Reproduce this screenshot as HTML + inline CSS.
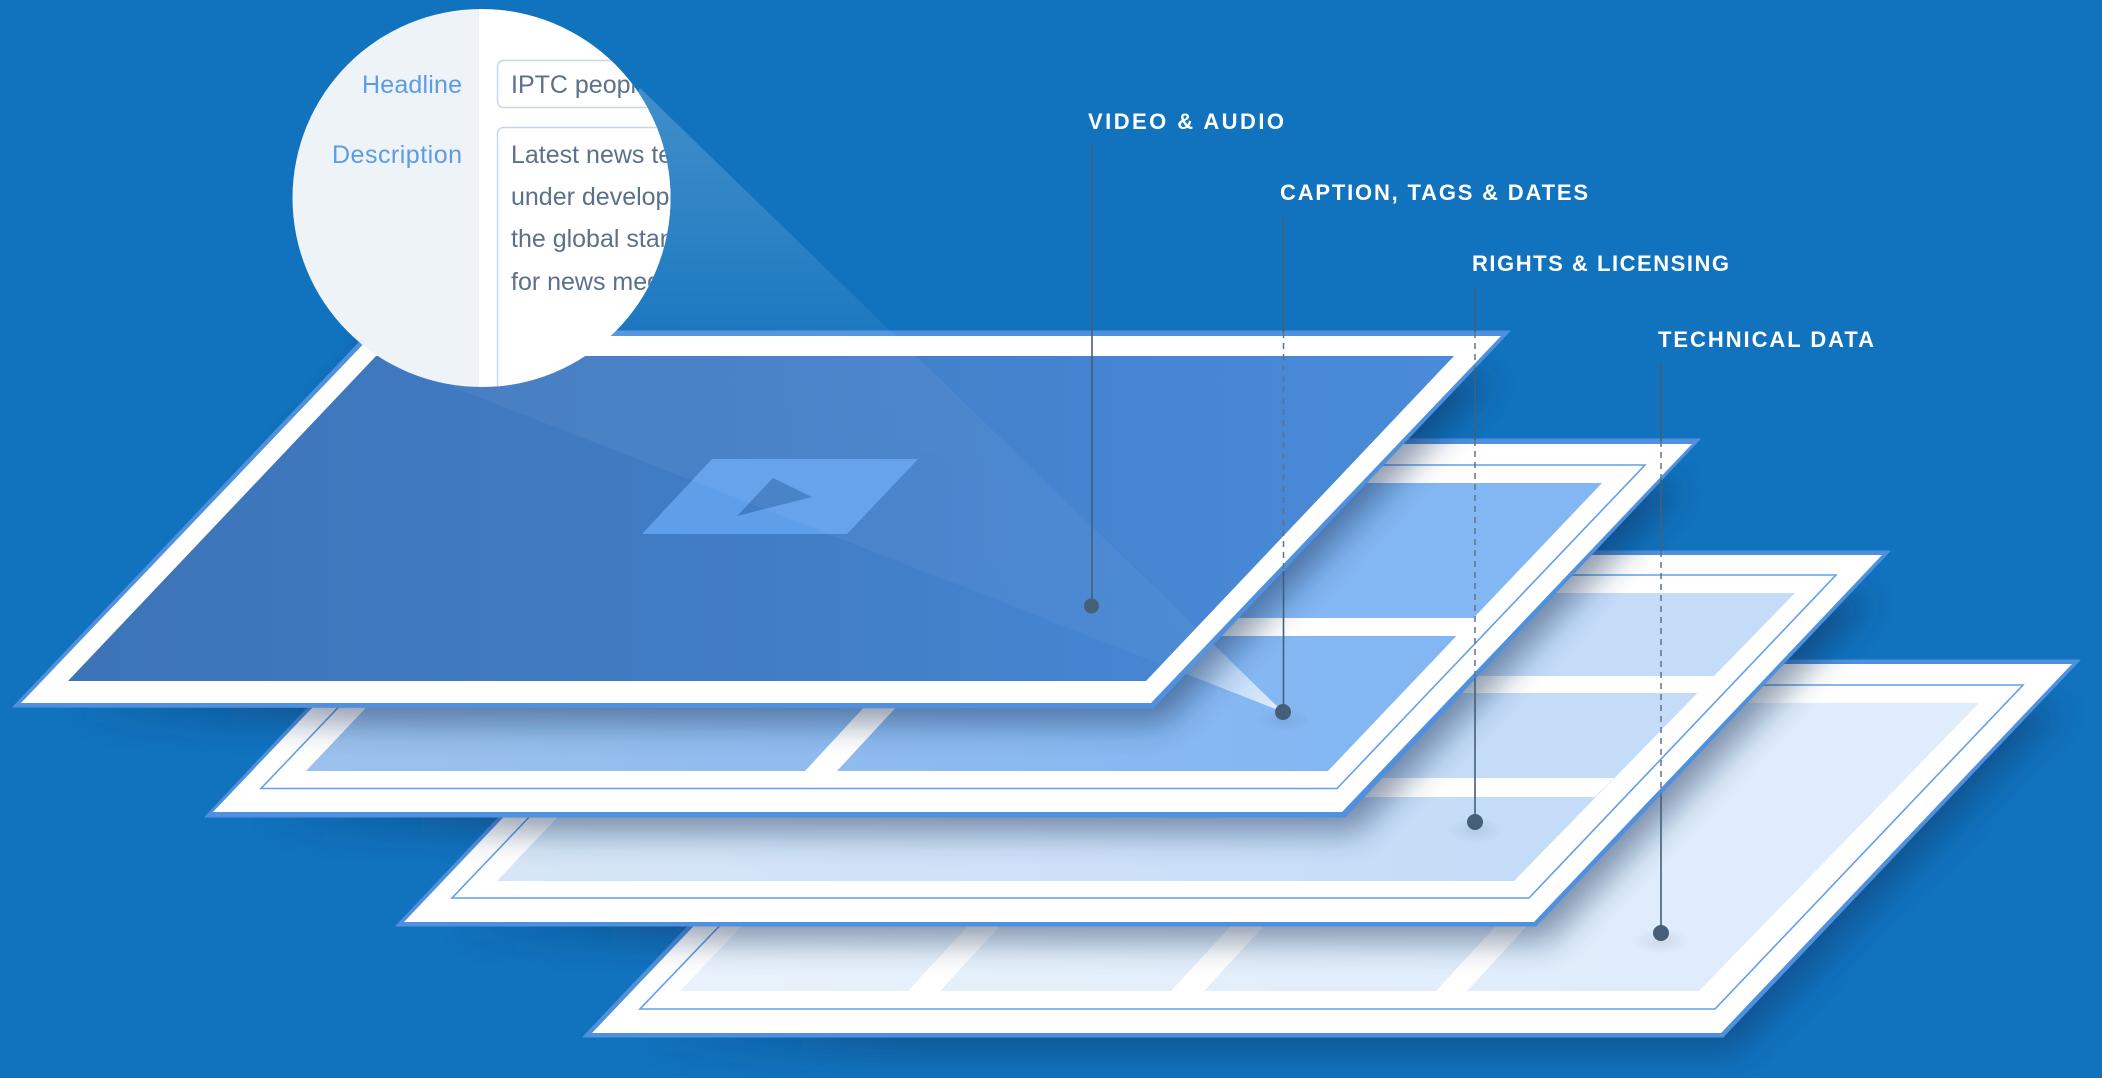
<!DOCTYPE html>
<html><head><meta charset="utf-8"><style>
html,body{margin:0;padding:0;background:#1172bd;width:2102px;height:1078px;overflow:hidden}
svg{display:block}
text{font-family:"Liberation Sans",sans-serif}
</style></head><body>
<svg width="2102" height="1078" viewBox="0 0 2102 1078" xmlns="http://www.w3.org/2000/svg">
<defs>
<filter id="sh" filterUnits="userSpaceOnUse" x="-100" y="200" width="2400" height="1000"><feGaussianBlur stdDeviation="16"/></filter>
<linearGradient id="sg"><stop offset="0" stop-color="#0b2a55" stop-opacity="0"/><stop offset=".2" stop-color="#0b2a55" stop-opacity="1"/><stop offset="1" stop-color="#0b2a55" stop-opacity="1"/></linearGradient>
<linearGradient id="g1" gradientUnits="userSpaceOnUse" x1="68" y1="0" x2="1454" y2="0"><stop offset="0" stop-color="#3d74b8"/><stop offset=".5" stop-color="#417dc5"/><stop offset=".8" stop-color="#4686d3"/><stop offset="1" stop-color="#4a8bd9"/></linearGradient>
<linearGradient id="g2" gradientUnits="userSpaceOnUse" x1="306" y1="0" x2="1328" y2="0"><stop offset="0" stop-color="#9dc1ec"/><stop offset=".6" stop-color="#8dbaef"/><stop offset="1" stop-color="#83b7f3"/></linearGradient>
<linearGradient id="g3" gradientUnits="userSpaceOnUse" x1="497" y1="0" x2="1514" y2="0"><stop offset="0" stop-color="#d6e6f6"/><stop offset=".6" stop-color="#cde0f8"/><stop offset="1" stop-color="#c4dcf8"/></linearGradient>
<linearGradient id="g4" gradientUnits="userSpaceOnUse" x1="680" y1="0" x2="1699" y2="0"><stop offset="0" stop-color="#e9f2fb"/><stop offset="1" stop-color="#deecfb"/></linearGradient>
<linearGradient id="coneA" gradientUnits="userSpaceOnUse" x1="0" y1="90" x2="0" y2="712"><stop offset="0" stop-color="#fff" stop-opacity=".2"/><stop offset=".39" stop-color="#fff" stop-opacity=".05"/><stop offset="1" stop-color="#fff" stop-opacity=".035"/></linearGradient>
<linearGradient id="coneB" gradientUnits="userSpaceOnUse" x1="1283" y1="712" x2="1190" y2="650"><stop offset="0" stop-color="#fff" stop-opacity=".75"/><stop offset="1" stop-color="#fff" stop-opacity=".25"/></linearGradient>
<radialGradient id="ds"><stop offset="0" stop-color="#234" stop-opacity=".1"/><stop offset="1" stop-color="#234" stop-opacity="0"/></radialGradient>
<clipPath id="circ"><circle cx="481.5" cy="198" r="189"/></clipPath>
</defs>
<rect width="2102" height="1078" fill="#1172bd"/>

<!-- Layer 4 -->
<polygon points="620,1037 1723,1037 2050,692 940,660" transform="translate(12,15)" fill="url(#sg)" opacity=".4" filter="url(#sh)"/>
<polygon points="583,1037 1723,1037 2080,660 940,660" fill="#4f91de" stroke="#4f91de" stroke-linejoin="round"/>
<polygon points="592,1033 1721,1033 2072,664 943,664" fill="#fff"/>
<polygon points="640,1009 1715,1009 2023,685 950,685" fill="none" stroke="#62a0e8" stroke-width="1.6"/>
<polygon points="680,991 1699,991 1979,703 955,703" fill="url(#g4)"/>
<g fill="#fff">
<polygon points="908,991 940,991 1010,915 978,915"/>
<polygon points="1171,991 1204,991 1274,915 1241,915"/>
<polygon points="1436,991 1467,991 1537,915 1506,915"/>
</g>
<ellipse cx="1661" cy="941" rx="28" ry="13" fill="url(#ds)"/>

<!-- Layer 3 -->
<polygon points="430,926 1536,926 1860,583 750,551" transform="translate(12,15)" fill="url(#sg)" opacity=".48" filter="url(#sh)"/>
<polygon points="396,926 1536,926 1890,551 750,551" fill="#4f91de" stroke="#4f91de" stroke-linejoin="round"/>
<polygon points="404,922 1534,922 1882,555 752,555" fill="#fff"/>
<polygon points="452,898 1529,898 1836,575 760,575" fill="none" stroke="#62a0e8" stroke-width="1.6"/>
<polygon points="497,881 1514,881 1795,593 770,593" fill="url(#g3)"/>
<g fill="#fff">
<polygon points="600,676 1714,676 1697.5,693 600,693"/>
<polygon points="600,778 1614,778 1595,797 600,797"/>
</g>
<ellipse cx="1475" cy="830" rx="28" ry="13" fill="url(#ds)"/>

<!-- Layer 2 -->
<polygon points="240,817 1345,817 1670,470 560,439" transform="translate(12,15)" fill="url(#sg)" opacity=".48" filter="url(#sh)"/>
<polygon points="205,817 1345,817 1700,439 560,439" fill="#4f91de" stroke="#4f91de" stroke-linejoin="round"/>
<polygon points="213,812 1342,812 1692,444 563,444" fill="#fff"/>
<polygon points="261,788.5 1337,788.5 1645,465 569,465" fill="none" stroke="#62a0e8" stroke-width="1.6"/>
<polygon points="306,771 1328,771 1602,483 579,483" fill="url(#g2)"/>
<g fill="#fff">
<polygon points="300,618 1474,618 1457,636 300,636"/>
<polygon points="805,771 837,771 912,690 880,690"/>
</g>
<ellipse cx="1283" cy="720" rx="26" ry="11" fill="url(#ds)"/>
<polygon points="1100,534 1283,712 1100,640" fill="url(#coneB)"/>

<!-- Layer 1 -->
<polygon points="50,708 1153,708 1480,363 370,331" transform="translate(12,15)" fill="url(#sg)" opacity=".48" filter="url(#sh)"/>
<polygon points="13,707 1153,708 1510,331 370,331" fill="#4f91de" stroke="#4f91de" stroke-linejoin="round"/>
<polygon points="21,703 1151,703 1501,336 371,336" fill="#fff"/>
<polygon points="68,681 1146,681 1454,356 376,356" fill="url(#g1)"/>
<path fill-rule="evenodd" fill="#5f9fe9" d="M712,459H918L847,534H642Z M773,478L812,497L737,516Z"/>
<polygon points="640,88 1283,712 453,387" fill="url(#coneA)"/>

<!-- Connectors -->
<g stroke="#455f78" stroke-width="1.6" fill="none">
<line x1="1092" y1="145" x2="1092" y2="606"/>
<line x1="1283.5" y1="215" x2="1283.5" y2="332"/>
<line x1="1283.5" y1="571" x2="1283.5" y2="712"/>
<line x1="1475" y1="287" x2="1475" y2="332"/>
<line x1="1475" y1="368" x2="1475" y2="440"/>
<line x1="1475" y1="678" x2="1475" y2="822"/>
<line x1="1661" y1="363" x2="1661" y2="441"/>
<line x1="1661" y1="480" x2="1661" y2="551"/>
<line x1="1661" y1="795" x2="1661" y2="933"/>
</g>
<g stroke="#5f7388" stroke-width="1.5" stroke-dasharray="6 5" fill="none">
<line x1="1283.5" y1="332" x2="1283.5" y2="571"/>
<line x1="1475" y1="332" x2="1475" y2="368"/>
<line x1="1475" y1="440" x2="1475" y2="678"/>
<line x1="1661" y1="441" x2="1661" y2="480"/>
<line x1="1661" y1="551" x2="1661" y2="795"/>
</g>
<g fill="#455f78">
<circle cx="1091.5" cy="606" r="7.5"/>
<circle cx="1283" cy="712" r="8"/>
<circle cx="1475" cy="822" r="8"/>
<circle cx="1661" cy="933" r="8"/>
</g>

<!-- Labels -->
<g fill="#fff" font-weight="700" font-size="22">
<text x="1088" y="129" textLength="196" lengthAdjust="spacing">VIDEO &amp; AUDIO</text>
<text x="1280" y="200" textLength="308" lengthAdjust="spacing">CAPTION, TAGS &amp; DATES</text>
<text x="1472" y="271" textLength="257" lengthAdjust="spacing">RIGHTS &amp; LICENSING</text>
<text x="1658" y="347" textLength="216" lengthAdjust="spacing">TECHNICAL DATA</text>
</g>

<!-- Magnifier -->
<g clip-path="url(#circ)">
<rect x="290" y="5" width="190" height="385" fill="#eef3f7"/>
<rect x="479" y="5" width="195" height="385" fill="#fff"/>
<rect x="497.5" y="60.5" width="260" height="47" rx="6" fill="#fff" stroke="#c9d6e6" stroke-width="1.5"/>
<rect x="497.5" y="127.5" width="260" height="300" rx="6" fill="#fff" stroke="#c9d6e6" stroke-width="1.5"/>
<g font-size="25" fill="#5c9be8">
<text x="462" y="93" text-anchor="end" textLength="100" lengthAdjust="spacing">Headline</text>
<text x="462" y="163" text-anchor="end" textLength="130" lengthAdjust="spacing">Description</text>
</g>
<g font-size="25" fill="#5c7189">
<text x="511" y="93">IPTC people</text>
<text x="511" y="163">Latest news technology</text>
<text x="511" y="205">under development by</text>
<text x="511" y="247">the global standards body</text>
<text x="511" y="290">for news media</text>
</g>
</g>
</svg>
</body></html>
